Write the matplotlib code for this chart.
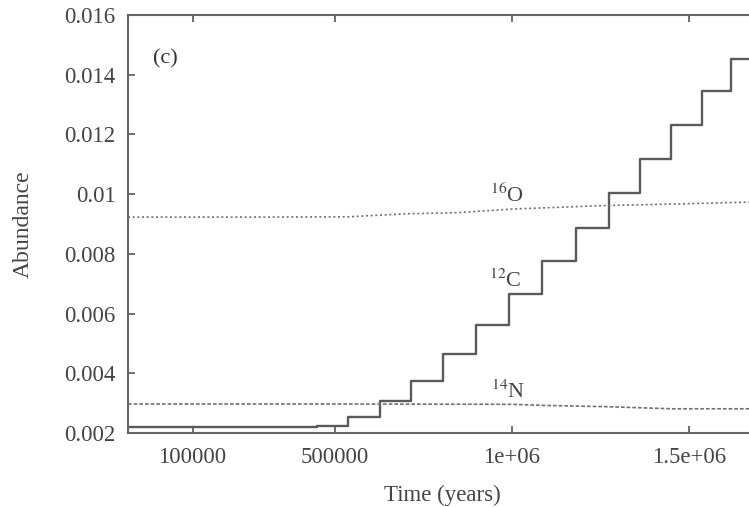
import matplotlib
matplotlib.use("Agg")
import matplotlib.pyplot as plt

plt.rcParams['font.family'] = ['Liberation Serif', 'DejaVu Serif']
plt.rcParams['mathtext.fontset'] = 'stix'

# 12C: step changes (time in years, abundance after the step)
c12_time = [-82000, 451000, 539000, 627000, 715000, 807000, 900000, 993000,
            1086000, 1180000, 1273000, 1362000, 1448000, 1535000, 1618000, 1720000]
c12_abund = [0.00221, 0.00224, 0.00255, 0.00307, 0.00374, 0.00465, 0.00561, 0.00665,
             0.00777, 0.00888, 0.01003, 0.01118, 0.01232, 0.01344, 0.01451, 0.01451]

# 16O: slow rise
o16_time = [-82000, 300000, 539000, 700000, 850000, 1000000, 1270000, 1500000, 1720000]
o16_abund = [0.00923, 0.00923, 0.00924, 0.00934, 0.00938, 0.00950, 0.00962, 0.00968, 0.00975]

# 14N: slow decline
n14_time = [-82000, 500000, 1000000, 1100000, 1270000, 1450000, 1720000]
n14_abund = [0.00297, 0.00297, 0.00296, 0.00292, 0.00288, 0.00281, 0.00281]

xticks = [100000, 500000, 1000000, 1500000]
xticklabels = ['100000', '500000', '1e+06', '1.5e+06']
yticks = [0.002, 0.004, 0.006, 0.008, 0.01, 0.012, 0.014, 0.016]
yticklabels = ['0.002', '0.004', '0.006', '0.008', '0.01', '0.012', '0.014', '0.016']

fig = plt.figure(figsize=(7.49, 5.07), dpi=100)
ax = fig.add_axes([0.1709, 0.146, 0.8395, 0.8245])

gray = '#5a5a5a'
ax.step(c12_time, c12_abund, where='post', color=gray, lw=1.7)
ax.plot(o16_time, o16_abund, color='#707070', lw=1.2, linestyle=(0, (1.2, 1.6)))
ax.plot(n14_time, n14_abund, color='#707070', lw=1.2, linestyle=(0, (2.2, 1.2)))

ax.set_xlim(-82000, 1.69e6)
ax.set_ylim(0.002, 0.016)
ax.set_xticks(xticks)
ax.set_xticklabels(xticklabels)
ax.set_yticks(yticks)
ax.set_yticklabels(yticklabels)
ax.tick_params(direction='in', length=5, width=1.2, colors='#555555',
               labelcolor='#444444', labelsize=16.5, top=True, right=True)
ax.tick_params(axis='x', pad=10)
ax.tick_params(axis='y', pad=9)

for s in ax.spines.values():
    s.set_color('#666666')
    s.set_linewidth(1.5)

ax.set_xlabel('Time (years)', fontsize=16.5, color='#444444', labelpad=12)
ax.set_ylabel('Abundance', fontsize=17, color='#444444', labelpad=22)

ax.text(0.04, 0.885, '(c)', transform=ax.transAxes, fontsize=16, color='#333333')
ax.text(987000, 0.00972, r'$^{16}$O', fontsize=16, color='#444444', ha='center')
ax.text(982000, 0.00689, r'$^{12}$C', fontsize=16, color='#444444', ha='center')
ax.text(990000, 0.00317, r'$^{14}$N', fontsize=16, color='#444444', ha='center')

fig.savefig('out.png', dpi=100)
